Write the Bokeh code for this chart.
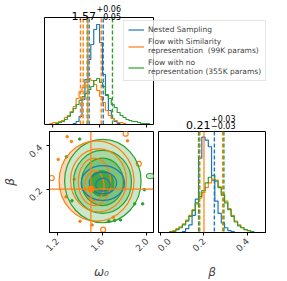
import math
from bokeh.plotting import figure
from bokeh.models import Range1d, FixedTicker, PrintfTickFormatter, Legend, LegendItem, Span
from bokeh.layouts import column, row
from bokeh.embed import file_html
from bokeh.resources import INLINE
from bokeh.core.properties import value

BLUE, ORANGE, GREEN = "#1f77b4", "#ff7f0e", "#2ca02c"
FONT = "DejaVu Sans"

# ---------------- data ----------------
series_labels = ["Nested Sampling",
                 "Flow with Similarity\nrepresentation  (99K params)",
                 "Flow with no\nrepresentation (355K params)"]

omega_bin_start = 1.15
omega_bin_width = 0.025
omega_nested = [0, 0, 0, 0, 0, 0, 0, 0, 0, 0.01, 0.03, 0.08, 0.25, 0.45, 0.65, 0.80,
                0.95, 1.00, 0.82, 0.50, 0.29, 0.14, 0.06, 0.03, 0.01, 0, 0, 0, 0, 0,
                0, 0, 0, 0, 0, 0]
omega_sim = [0, 0.01, 0.02, 0.02, 0.03, 0.04, 0.07, 0.09, 0.13, 0.18, 0.26, 0.33, 0.37,
             0.42, 0.46, 0.44, 0.40, 0.34, 0.28, 0.22, 0.14, 0.09, 0.06, 0.04, 0.02, 0.02,
             0.01, 0, 0, 0, 0, 0, 0, 0, 0, 0]
omega_norep = [0, 0, 0, 0.01, 0.02, 0.03, 0.05, 0.08, 0.12, 0.16, 0.20, 0.24, 0.28, 0.31,
               0.35, 0.38, 0.44, 0.46, 0.42, 0.38, 0.30, 0.26, 0.20, 0.17, 0.12, 0.09,
               0.07, 0.05, 0.04, 0.03, 0.03, 0.02, 0.01, 0.01, 0.01, 0]

beta_bin_start = 0.04
beta_bin_width = 0.015
beta_nested = [0, 0, 0, 0, 0.01, 0.04, 0.08, 0.18, 0.35, 0.78, 1.00, 0.97, 0.90, 0.55,
               0.33, 0.20, 0.10, 0.05, 0.02, 0.01, 0, 0, 0, 0, 0, 0, 0]
beta_sim = [0.01, 0.02, 0.04, 0.06, 0.09, 0.13, 0.18, 0.24, 0.30, 0.36, 0.42, 0.47, 0.52,
            0.56, 0.55, 0.48, 0.40, 0.33, 0.25, 0.18, 0.12, 0.08, 0.05, 0.03, 0.02, 0.01, 0]
beta_norep = [0.01, 0.01, 0.03, 0.05, 0.08, 0.12, 0.17, 0.23, 0.31, 0.38, 0.44, 0.52, 0.58,
              0.60, 0.54, 0.47, 0.39, 0.31, 0.24, 0.17, 0.11, 0.07, 0.05, 0.03, 0.02, 0.01, 0]

omega_q_nested = [1.511, 1.631]
omega_q_sim = [1.437, 1.460, 1.614]
omega_q_norep = [1.494, 1.710]
beta_q_nested = [0.178, 0.248]
beta_q_sim = [0.181, 0.286]
beta_q_norep = [0.175, 0.292]
truth_omega = 1.5
truth_beta = 0.2

omega_title = ["1.57", "+0.06", "\u22120.05"]
beta_title = ["0.21", "+0.03", "\u22120.03"]

omega_ticks = [1.2, 1.6, 2.0]
beta2d_ticks = [0.2, 0.4]
beta_ticks = [0.0, 0.2, 0.4]

# 2D contour levels (centre, full width, full height), outer -> inner
green_cx = [1.607, 1.604, 1.604, 1.597]
green_cy = [0.237, 0.233, 0.233, 0.226]
green_w = [0.684, 0.518, 0.374, 0.216]
green_h = [0.384, 0.290, 0.218, 0.116]
orange_cx = [1.551, 1.568, 1.532, 1.532]
orange_cy = [0.237, 0.240, 0.233, 0.215]
orange_w = [0.670, 0.500, 0.288, 0.172]
orange_h = [0.370, 0.290, 0.218, 0.138]
blue_cx = [1.607, 1.608, 1.608]
blue_cy = [0.228, 0.228, 0.220]
blue_w = [0.388, 0.244, 0.130]
blue_h = [0.160, 0.100, 0.060]

orange_pts_omega = [1.288, 1.326, 1.208, 1.277, 1.403, 1.512, 1.828, 1.351, 1.700]
orange_pts_beta = [0.441, 0.419, 0.336, 0.164, 0.052, 0.035, 0.422, 0.245, 0.070]
orange_islands_omega = [1.811, 1.150, 1.929, 1.610]
orange_islands_beta = [0.455, 0.251, 0.316, 0.013]
green_pts_omega = [1.282, 1.331, 1.662, 1.713, 1.765, 1.892, 1.963, 1.978, 1.400]
green_pts_beta = [0.349, 0.146, 0.052, 0.055, 0.058, 0.132, 0.132, 0.197, 0.430]
green_island_omega = [2.030]
green_island_beta = [0.260]

# ---------------- geometry ----------------
OM_LO, OM_HI = 1.13, 2.06
B2_LO, B2_HI = 0.0, 0.465
BH_LO, BH_HI = -0.01, 0.484
OM_TOP = 1.07
BE_TOP = 1.06


def steps(start, width, heights):
    edges = [start + width * i for i in range(len(heights) + 1)]
    return edges, list(heights) + [heights[-1]]


def style_axis(ax, ticks):
    ax.ticker = FixedTicker(ticks=ticks)
    ax.formatter = PrintfTickFormatter(format="%.1f")
    ax.major_tick_out = 3
    ax.major_tick_in = 0
    ax.minor_tick_line_color = None
    ax.major_tick_line_color = "black"
    ax.axis_line_color = "black"
    ax.major_label_text_font = FONT
    ax.major_label_text_font_size = "9px"
    ax.major_label_standoff = 4
    ax.major_label_orientation = math.pi / 4
    ax.axis_label_text_font = FONT
    ax.axis_label_text_font_style = "italic"
    ax.axis_label_text_font_size = "12px"
    ax.axis_label_standoff = 7


# ---------------- top: omega histogram (frame = whole figure) ----------------
TW, TH = 279, 131
BOX_L, BOX_R, BOX_T, BOX_B = 44, 153, 17, 124   # page px of the histogram box
sx = (BOX_R - BOX_L) / (OM_HI - OM_LO)
sy = (BOX_B - BOX_T) / OM_TOP
top = figure(width=TW, height=TH, title=None,
             x_range=Range1d(OM_LO - BOX_L / sx, OM_LO + (TW - BOX_L) / sx),
             y_range=Range1d(-(TH - BOX_B) / sy, BOX_B / sy),
             min_border=0, x_axis_location=None, y_axis_location=None,
             output_backend="svg", toolbar_location=None)
top.outline_line_color = None
top.grid.visible = False
top.extra_x_ranges = {"px": Range1d(0, TW)}
top.extra_y_ranges = {"px": Range1d(TH, 0)}

rends = []
for hs, col in [(omega_nested, BLUE), (omega_sim, ORANGE), (omega_norep, GREEN)]:
    xs, ys = steps(omega_bin_start, omega_bin_width, hs)
    rends.append(top.step(x=xs, y=ys, mode="after", line_color=col, line_width=1.2))
for qs, col in [(omega_q_nested, BLUE), (omega_q_sim, ORANGE), (omega_q_norep, GREEN)]:
    top.segment(x0=qs, y0=[0] * len(qs), x1=qs, y1=[OM_TOP] * len(qs),
                line_color=col, line_width=1.4, line_dash="4 2")
top.segment(x0=[truth_omega], y0=[0], x1=[truth_omega], y1=[OM_TOP],
            line_color=ORANGE, line_width=1.2)
top.quad(left=[OM_LO], right=[OM_HI], bottom=[0], top=[OM_TOP],
         fill_color=None, line_color="black", line_width=1)
top.segment(x0=omega_ticks, y0=[0] * 3, x1=omega_ticks, y1=[-3 / sy] * 3,
            line_color="black", line_width=1)

tkw = dict(x_range_name="px", y_range_name="px", text_font=value(FONT),
           text_baseline="alphabetic", text_color="black")
top.text(x=[95.5], y=[15.0], text=[omega_title[0]], text_align="right",
         text_font_size=value("11px"), **tkw)
top.text(x=[96], y=[8.3], text=[omega_title[1]], text_align="left",
         text_font_size=value("8px"), **tkw)
top.text(x=[96], y=[15.8], text=[omega_title[2]], text_align="left",
         text_font_size=value("8px"), **tkw)
top.text(x=[210], y=[124.0], text=[beta_title[0]], text_align="right",
         text_font_size=value("11px"), **tkw)
top.text(x=[210.5], y=[117.8], text=[beta_title[1]], text_align="left",
         text_font_size=value("8px"), **tkw)
top.text(x=[210.5], y=[125.0], text=[beta_title[2]], text_align="left",
         text_font_size=value("8px"), **tkw)

legend = Legend(items=[LegendItem(label=series_labels[i], renderers=[rends[i]]) for i in range(3)],
                location=(123, TH - 81))
legend.label_text_font = FONT
legend.label_text_font_size = "7.5px"
legend.label_text_line_height = 1.2
legend.glyph_width = 16
legend.glyph_height = 9
legend.label_height = 9
legend.label_standoff = 4
legend.padding = 4
legend.spacing = 3
legend.margin = 0
legend.border_line_color = "#cccccc"
legend.background_fill_alpha = 0.8
top.add_layout(legend)

# ---------------- 2D panel ----------------
p2 = figure(width=156, height=150, title=None,
            x_range=Range1d(OM_LO, OM_HI), y_range=Range1d(B2_LO, B2_HI),
            min_border_left=45, min_border_right=3, min_border_top=0, min_border_bottom=44,
            output_backend="svg", toolbar_location=None)
p2.grid.visible = False
p2.outline_line_color = "black"
style_axis(p2.xaxis[0], omega_ticks)
style_axis(p2.yaxis[0], beta2d_ticks)
p2.yaxis.major_label_standoff = 6
p2.yaxis.axis_label_standoff = 5
p2.xaxis.axis_label = "\u03c9\u2080"
p2.yaxis.axis_label = "\u03b2"

p2.ellipse(x=orange_cx[:1], y=orange_cy[:1], width=orange_w[:1], height=orange_h[:1],
           fill_color="#ffd8bb", line_color=None)
green_fills = ["#cae7ca", "#a9d8a7", "#7cc47a", "#41a641"]
for i in range(4):
    p2.ellipse(x=[green_cx[i]], y=[green_cy[i]], width=[green_w[i]], height=[green_h[i]],
               fill_color=green_fills[i], line_color=None)
p2.ellipse(x=green_island_omega, y=green_island_beta, width=[0.07], height=[0.025],
           fill_color="#cae7ca", line_color=GREEN, line_width=1)
p2.scatter(x=orange_pts_omega, y=orange_pts_beta, size=2.5, color=ORANGE)
p2.scatter(x=green_pts_omega, y=green_pts_beta, size=2.5, color=GREEN)
p2.scatter(x=orange_islands_omega, y=orange_islands_beta, size=5, fill_color=None,
           line_color=ORANGE, line_width=1.2)
p2.ellipse(x=green_cx, y=green_cy, width=green_w, height=green_h, fill_color=None,
           line_color=GREEN, line_width=1.2)
p2.ellipse(x=orange_cx, y=orange_cy, width=orange_w, height=orange_h, fill_color=None,
           line_color=ORANGE, line_width=1.2)
p2.ellipse(x=blue_cx, y=blue_cy, width=blue_w, height=blue_h, fill_color=None,
           line_color=BLUE, line_width=1.2)
p2.add_layout(Span(location=truth_omega, dimension="height", line_color=ORANGE, line_width=1.2))
p2.add_layout(Span(location=truth_beta, dimension="width", line_color=ORANGE, line_width=1.2))
p2.scatter(x=[truth_omega], y=[truth_beta], marker="square", size=5, color=ORANGE)

# ---------------- beta histogram ----------------
pb = figure(width=123, height=150, title=None,
            x_range=Range1d(BH_LO, BH_HI), y_range=Range1d(0, BE_TOP),
            min_border_left=2, min_border_right=14, min_border_top=0, min_border_bottom=44,
            y_axis_location=None, output_backend="svg", toolbar_location=None)
pb.grid.visible = False
pb.outline_line_color = "black"
style_axis(pb.xaxis[0], beta_ticks)
pb.xaxis.axis_label = "\u03b2"
for hs, col in [(beta_nested, BLUE), (beta_sim, ORANGE), (beta_norep, GREEN)]:
    xs, ys = steps(beta_bin_start, beta_bin_width, hs)
    pb.step(x=xs, y=ys, mode="after", line_color=col, line_width=1.2)
for qs, col in [(beta_q_nested, BLUE), (beta_q_sim, ORANGE), (beta_q_norep, GREEN)]:
    for q in qs:
        pb.add_layout(Span(location=q, dimension="height", line_color=col,
                           line_width=1.4, line_dash="4 2"))
pb.add_layout(Span(location=truth_beta, dimension="height", line_color=ORANGE, line_width=1.2))

layout = column(top, row(p2, pb))
open("out.html", "w").write(file_html(layout, INLINE))
